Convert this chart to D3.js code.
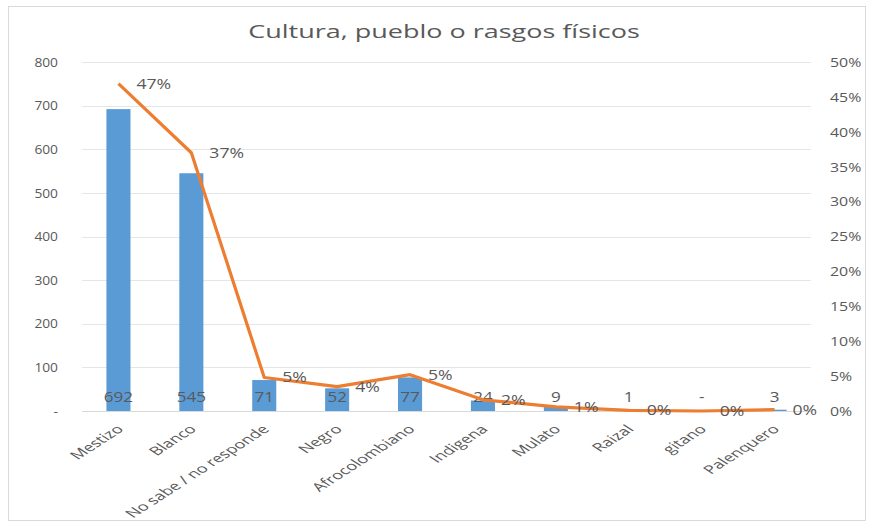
<!DOCTYPE html>
<html><head><meta charset="utf-8">
<script src="https://cdn.jsdelivr.net/npm/d3@7"></script>
<style>body{margin:0;background:#fff}svg{display:block}text{font-family:"Open Sans","Noto Sans",sans-serif;fill:#595959}</style>
</head><body><svg id="c" width="869" height="525"></svg>
<script>
const categories = ["Mestizo","Blanco","No sabe / no responde","Negro","Afrocolombiano","Indigena","Mulato","Raizal","gitano","Palenquero"];
const counts = [692,545,71,52,77,24,9,1,0,3];
const shares = [0.469,0.370,0.048,0.035,0.052,0.016,0.006,0.001,0,0.002];
const shareLabels = ["47%","37%","5%","4%","5%","2%","1%","0%","0%","0%"];
const leftTicks = [0,100,200,300,400,500,600,700,800];
const rightTicks = [0,0.05,0.10,0.15,0.20,0.25,0.30,0.35,0.40,0.45,0.50];

const svg = d3.select("#c");
svg.append("rect").attr("x",8.5).attr("y",6.5).attr("width",857).attr("height",514).attr("fill","#fff").attr("stroke","#d9d9d9");

const x = d3.scaleBand().domain(categories).range([82,811]).paddingInner(0.67).paddingOuter(0.335);
const y = d3.scaleLinear().domain([0,800]).range([411,62]);
const y2 = d3.scaleLinear().domain([0,0.5]).range([411,62]);
const cx = d => x(d)+x.bandwidth()/2;

// title (horizontally stretched like the reference)
svg.append("g").attr("transform","translate(444,38) scale(1.42,1)")
  .append("text").attr("text-anchor","middle").style("font-size","19px").text("Cultura, pueblo o rasgos físicos");

// gridlines
svg.append("g").selectAll("line").data(leftTicks).join("line")
  .attr("x1",82).attr("x2",811).attr("y1",d=>Math.round(y(d))+0.5).attr("y2",d=>Math.round(y(d))+0.5)
  .attr("stroke",d=>d===0?"#d9d9d9":"#e6e6e6").attr("stroke-width",1);

// left axis
const la = svg.append("g").attr("transform","translate(58,0)")
  .call(d3.axisLeft(y).tickValues(leftTicks).tickSize(0).tickPadding(0).tickFormat(d=>d===0?"-":d));
la.select(".domain").remove();
la.selectAll("text").style("font-size","13px").attr("fill","#595959").style("font-family","'Open Sans',sans-serif")
  .attr("transform","scale(1.06,1)");

// right axis
const ra = svg.append("g").attr("transform","translate(830,0)")
  .call(d3.axisRight(y2).tickValues(rightTicks).tickSize(0).tickPadding(0).tickFormat(d3.format(".0%")));
ra.select(".domain").remove();
ra.selectAll("text").style("font-size","13.5px").attr("fill","#595959").style("font-family","'Open Sans',sans-serif")
  .attr("transform","scale(1.18,1)");

// bars
svg.append("g").selectAll("rect").data(categories).join("rect")
  .attr("x",d=>x(d)).attr("width",x.bandwidth())
  .attr("y",(d,i)=>y(counts[i])).attr("height",(d,i)=>y(0)-y(counts[i]))
  .attr("fill","#5b9bd5");

// bar labels
svg.append("g").selectAll("g").data(categories).join("g")
  .attr("transform",d=>`translate(${cx(d)},402) scale(1.22,1)`)
  .append("text").attr("text-anchor","middle").style("font-size","14px").attr("fill","#404040")
  .text((d,i)=>counts[i]===0?"-":counts[i]);

// line
const line = d3.line().x((d,i)=>cx(categories[i])).y(d=>y2(d));
svg.append("path").datum(shares).attr("d",line).attr("fill","none").attr("stroke","#ed7d31").attr("stroke-width",3.2).attr("stroke-linejoin","round");

// line labels
svg.append("g").selectAll("g").data(shares).join("g")
  .attr("transform",(d,i)=>`translate(${cx(categories[i])+18},${y2(d)+5}) scale(1.26,1)`)
  .append("text").style("font-size","14px").attr("fill","#404040")
  .text((d,i)=>shareLabels[i]);

// x labels (rotated, then horizontally stretched like the reference)
svg.append("g").selectAll("g").data(categories).join("g")
  .attr("transform",d=>`translate(${cx(d)+6},${430}) scale(1.55,1) rotate(-45)`)
  .append("text").attr("text-anchor","end").style("font-size","11.8px")
  .text(d=>d);
</script></body></html>
